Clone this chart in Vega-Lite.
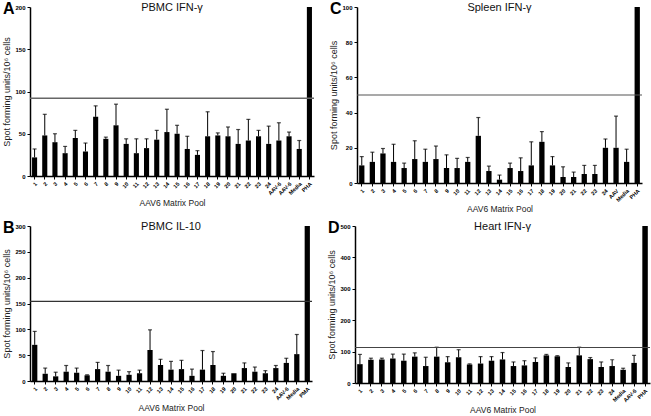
{
  "$schema": "https://vega.github.io/schema/vega-lite/v6.json",
  "padding": {"top": 1, "left": 2, "right": 1, "bottom": 0},
  "background": "white",
  "datasets": {
    "A": [
      {"pool": "1", "value": 22, "upper": 32},
      {"pool": "2", "value": 48, "upper": 73},
      {"pool": "3", "value": 40, "upper": 50},
      {"pool": "4", "value": 27, "upper": 35},
      {"pool": "5", "value": 45, "upper": 54},
      {"pool": "6", "value": 29, "upper": 39},
      {"pool": "7", "value": 70, "upper": 83},
      {"pool": "8", "value": 44, "upper": 46},
      {"pool": "9", "value": 60, "upper": 85},
      {"pool": "10", "value": 38, "upper": 44},
      {"pool": "11", "value": 27, "upper": 44},
      {"pool": "12", "value": 33, "upper": 44},
      {"pool": "13", "value": 43, "upper": 54},
      {"pool": "14", "value": 52, "upper": 79},
      {"pool": "15", "value": 50, "upper": 60},
      {"pool": "16", "value": 32, "upper": 47},
      {"pool": "17", "value": 25, "upper": 30},
      {"pool": "18", "value": 47, "upper": 76},
      {"pool": "19", "value": 48, "upper": 51},
      {"pool": "20", "value": 47, "upper": 58},
      {"pool": "21", "value": 38, "upper": 55},
      {"pool": "22", "value": 42, "upper": 67},
      {"pool": "23", "value": 47, "upper": 54},
      {"pool": "24", "value": 38, "upper": 59},
      {"pool": "AAV-6#1", "value": 42, "upper": 63},
      {"pool": "AAV-6#2", "value": 47, "upper": 52},
      {"pool": "Media", "value": 32, "upper": 42},
      {"pool": "PHA", "value": 200, "upper": null}
    ],
    "C": [
      {"pool": "1", "value": 10, "upper": 15},
      {"pool": "2", "value": 12, "upper": 17.5},
      {"pool": "3", "value": 16.8, "upper": 19.6},
      {"pool": "4", "value": 12, "upper": 22},
      {"pool": "5", "value": 8.5, "upper": 11.3},
      {"pool": "6", "value": 13.6, "upper": 24},
      {"pool": "7", "value": 12, "upper": 19.2},
      {"pool": "8", "value": 13.6, "upper": 21},
      {"pool": "9", "value": 8.5, "upper": 16},
      {"pool": "10", "value": 8.5, "upper": 14},
      {"pool": "11", "value": 12, "upper": 14.5},
      {"pool": "12", "value": 26.8, "upper": 37.2},
      {"pool": "13", "value": 6.8, "upper": 9.6},
      {"pool": "14", "value": 1.9, "upper": 4.5},
      {"pool": "15", "value": 8.5, "upper": 11.3},
      {"pool": "16", "value": 6.8, "upper": 14.3},
      {"pool": "17", "value": 10, "upper": 23.4},
      {"pool": "18", "value": 23.4, "upper": 29.2},
      {"pool": "19", "value": 10, "upper": 15},
      {"pool": "20", "value": 3.4, "upper": 9.2},
      {"pool": "21", "value": 3.4, "upper": 6.2},
      {"pool": "22", "value": 5.1, "upper": 10},
      {"pool": "23", "value": 5.1, "upper": 10},
      {"pool": "24", "value": 20, "upper": 25},
      {"pool": "AAV", "value": 20, "upper": 38},
      {"pool": "Media", "value": 12, "upper": 19.2},
      {"pool": "PHA", "value": 100, "upper": null}
    ],
    "B": [
      {"pool": "1", "value": 70, "upper": 96},
      {"pool": "2", "value": 14, "upper": 25},
      {"pool": "3", "value": 9, "upper": 17},
      {"pool": "4", "value": 18, "upper": 30},
      {"pool": "5", "value": 16, "upper": 25},
      {"pool": "6", "value": 11, "upper": 12},
      {"pool": "7", "value": 23, "upper": 36},
      {"pool": "8", "value": 18, "upper": 30},
      {"pool": "9", "value": 10, "upper": 21},
      {"pool": "10", "value": 12, "upper": 18},
      {"pool": "11", "value": 15, "upper": 21},
      {"pool": "12", "value": 60, "upper": 99},
      {"pool": "13", "value": 31, "upper": 42},
      {"pool": "14", "value": 22, "upper": 38},
      {"pool": "15", "value": 23, "upper": 40},
      {"pool": "16", "value": 10, "upper": 23},
      {"pool": "17", "value": 22, "upper": 59},
      {"pool": "18", "value": 31, "upper": 57},
      {"pool": "19", "value": 10, "upper": 15},
      {"pool": "20", "value": 15, "upper": null},
      {"pool": "21", "value": 25, "upper": 35},
      {"pool": "22", "value": 18, "upper": 27},
      {"pool": "23", "value": 15, "upper": 20},
      {"pool": "24", "value": 25, "upper": 30},
      {"pool": "AAV-6", "value": 35, "upper": 44},
      {"pool": "Media", "value": 52, "upper": 90},
      {"pool": "PMA", "value": 300, "upper": null}
    ],
    "D": [
      {"pool": "1", "value": 60, "upper": 91},
      {"pool": "2", "value": 74, "upper": 79},
      {"pool": "3", "value": 75, "upper": 79},
      {"pool": "4", "value": 78, "upper": 92},
      {"pool": "5", "value": 71, "upper": 92},
      {"pool": "6", "value": 84, "upper": 96},
      {"pool": "7", "value": 54, "upper": 82},
      {"pool": "8", "value": 84, "upper": 114},
      {"pool": "9", "value": 66, "upper": 84},
      {"pool": "10", "value": 82, "upper": 106},
      {"pool": "11", "value": 59, "upper": 61},
      {"pool": "12", "value": 62, "upper": 84},
      {"pool": "13", "value": 71, "upper": 84},
      {"pool": "14", "value": 75, "upper": 97},
      {"pool": "15", "value": 54, "upper": 67},
      {"pool": "16", "value": 56, "upper": 71},
      {"pool": "17", "value": 67, "upper": 80},
      {"pool": "18", "value": 88, "upper": 91},
      {"pool": "19", "value": 85, "upper": 87},
      {"pool": "20", "value": 51, "upper": 64},
      {"pool": "21", "value": 88, "upper": 114},
      {"pool": "22", "value": 76, "upper": 81},
      {"pool": "23", "value": 51, "upper": 67},
      {"pool": "24", "value": 54, "upper": 74},
      {"pool": "Media", "value": 42, "upper": 47},
      {"pool": "AAV-6", "value": 64, "upper": 88},
      {"pool": "PHA", "value": 500, "upper": null}
    ],
    "thrA": [{"t": 92}],
    "thrC": [{"t": 50}],
    "thrB": [{"t": 154}],
    "thrD": [{"t": 113}]
  },
  "vconcat": [
    {
      "hconcat": [
        {
          "title": {"text": "A", "anchor": "start", "fontSize": 16, "fontWeight": "bold", "offset": -15, "color": "black"},
          "vconcat": [
            {
              "width": 284, "height": 169,
              "title": {"text": "PBMC IFN-γ", "offset": -9},
              "data": {"name": "A"},
              "layer": [
                {"mark": {"type": "bar", "color": "black"},
                 "encoding": {
                   "x": {"field": "pool", "type": "nominal", "sort": null, "scale": {"paddingInner": 0.5, "paddingOuter": 0.2}, "axis": {"title": "AAV6 Matrix Pool", "labelExpr": "split(datum.label, '#')[0]"}},
                   "y": {"field": "value", "type": "quantitative", "scale": {"domain": [0, 200], "nice": false}, "axis": {"title": "Spot forming units/10⁶ cells", "tickCount": 4, "labelOverlap": false}}}},
                {"transform": [{"filter": "datum.upper != null"}],
                 "mark": {"type": "rule", "color": "black", "strokeWidth": 1},
                 "encoding": {"x": {"field": "pool", "type": "nominal", "sort": null}, "y": {"field": "value", "type": "quantitative"}, "y2": {"field": "upper"}}},
                {"transform": [{"filter": "datum.upper != null"}],
                 "mark": {"type": "tick", "color": "black", "size": 4, "thickness": 1.2},
                 "encoding": {"x": {"field": "pool", "type": "nominal", "sort": null}, "y": {"field": "upper", "type": "quantitative"}}},
                {"data": {"name": "thrA"}, "mark": {"type": "rule", "color": "#666", "strokeWidth": 1.3},
                 "encoding": {"y": {"field": "t", "type": "quantitative"}}}
              ]
            }
          ]
        },
        {
          "title": {"text": "C", "anchor": "start", "fontSize": 16, "fontWeight": "bold", "offset": -15, "color": "black"},
          "vconcat": [
            {
              "width": 285, "height": 176,
              "title": {"text": "Spleen IFN-γ", "offset": -9},
              "data": {"name": "C"},
              "layer": [
                {"mark": {"type": "bar", "color": "black"},
                 "encoding": {
                   "x": {"field": "pool", "type": "nominal", "sort": null, "scale": {"paddingInner": 0.5, "paddingOuter": 0.2}, "axis": {"title": "AAV6 Matrix Pool"}},
                   "y": {"field": "value", "type": "quantitative", "scale": {"domain": [0, 100], "nice": false}, "axis": {"title": "Spot forming units/10⁶ cells", "tickCount": 5, "labelOverlap": false}}}},
                {"transform": [{"filter": "datum.upper != null"}],
                 "mark": {"type": "rule", "color": "black", "strokeWidth": 1},
                 "encoding": {"x": {"field": "pool", "type": "nominal", "sort": null}, "y": {"field": "value", "type": "quantitative"}, "y2": {"field": "upper"}}},
                {"transform": [{"filter": "datum.upper != null"}],
                 "mark": {"type": "tick", "color": "black", "size": 4, "thickness": 1.2},
                 "encoding": {"x": {"field": "pool", "type": "nominal", "sort": null}, "y": {"field": "upper", "type": "quantitative"}}},
                {"data": {"name": "thrC"}, "mark": {"type": "rule", "color": "#555", "strokeWidth": 1.2},
                 "encoding": {"y": {"field": "t", "type": "quantitative"}}}
              ]
            }
          ]
        }
      ],
      "spacing": 14
    },
    {
      "hconcat": [
        {
          "title": {"text": "B", "anchor": "start", "fontSize": 16, "fontWeight": "bold", "offset": -15, "color": "black"},
          "vconcat": [
            {
              "width": 282, "height": 155,
              "title": {"text": "PBMC IL-10", "offset": -9},
              "data": {"name": "B"},
              "layer": [
                {"mark": {"type": "bar", "color": "black"},
                 "encoding": {
                   "x": {"field": "pool", "type": "nominal", "sort": null, "scale": {"paddingInner": 0.5, "paddingOuter": 0.2}, "axis": {"title": "AAV6 Matrix Pool"}},
                   "y": {"field": "value", "type": "quantitative", "scale": {"domain": [0, 300], "nice": false}, "axis": {"title": "Spot forming units/10⁶ cells", "tickCount": 6, "labelOverlap": false}}}},
                {"transform": [{"filter": "datum.upper != null"}],
                 "mark": {"type": "rule", "color": "black", "strokeWidth": 1},
                 "encoding": {"x": {"field": "pool", "type": "nominal", "sort": null}, "y": {"field": "value", "type": "quantitative"}, "y2": {"field": "upper"}}},
                {"transform": [{"filter": "datum.upper != null"}],
                 "mark": {"type": "tick", "color": "black", "size": 4, "thickness": 1.2},
                 "encoding": {"x": {"field": "pool", "type": "nominal", "sort": null}, "y": {"field": "upper", "type": "quantitative"}}},
                {"data": {"name": "thrB"}, "mark": {"type": "rule", "color": "#333", "strokeWidth": 1.2},
                 "encoding": {"y": {"field": "t", "type": "quantitative"}}}
              ]
            }
          ]
        },
        {
          "title": {"text": "D", "anchor": "start", "fontSize": 16, "fontWeight": "bold", "offset": -15, "color": "black"},
          "vconcat": [
            {
              "width": 295, "height": 157,
              "title": {"text": "Heart IFN-γ", "offset": -9},
              "data": {"name": "D"},
              "layer": [
                {"mark": {"type": "bar", "color": "black"},
                 "encoding": {
                   "x": {"field": "pool", "type": "nominal", "sort": null, "scale": {"paddingInner": 0.5, "paddingOuter": 0.2}, "axis": {"title": "AAV6 Matrix Pool"}},
                   "y": {"field": "value", "type": "quantitative", "scale": {"domain": [0, 500], "nice": false}, "axis": {"title": "Spot forming units/10⁶ cells", "tickCount": 5, "labelOverlap": false}}}},
                {"transform": [{"filter": "datum.upper != null"}],
                 "mark": {"type": "rule", "color": "black", "strokeWidth": 1},
                 "encoding": {"x": {"field": "pool", "type": "nominal", "sort": null}, "y": {"field": "value", "type": "quantitative"}, "y2": {"field": "upper"}}},
                {"transform": [{"filter": "datum.upper != null"}],
                 "mark": {"type": "tick", "color": "black", "size": 4, "thickness": 1.2},
                 "encoding": {"x": {"field": "pool", "type": "nominal", "sort": null}, "y": {"field": "upper", "type": "quantitative"}}},
                {"data": {"name": "thrD"}, "mark": {"type": "rule", "color": "#444", "strokeWidth": 1.2},
                 "encoding": {"y": {"field": "t", "type": "quantitative"}}}
              ]
            }
          ]
        }
      ],
      "spacing": 14
    }
  ],
  "spacing": 6,
  "config": {
    "font": "Liberation Sans",
    "view": {"stroke": null},
    "title": {"fontSize": 11, "fontWeight": "normal", "color": "#111", "font": "Liberation Sans"},
    "axis": {
      "grid": false,
      "domainColor": "black",
      "domainWidth": 1.5,
      "tickColor": "black",
      "tickSize": 3,
      "labelFontSize": 5.5,
      "labelFontWeight": "bold",
      "labelColor": "black",
      "labelPadding": 2,
      "labelOverlap": false,
      "titleFontSize": 8.5,
      "titleFontWeight": "normal",
      "titleColor": "#222"
    },
    "axisX": {"labelAngle": -45, "titlePadding": 2},
    "axisY": {"titlePadding": 3, "titleFontSize": 9, "labelOverlap": false, "labelFontSize": 6}
  }
}
